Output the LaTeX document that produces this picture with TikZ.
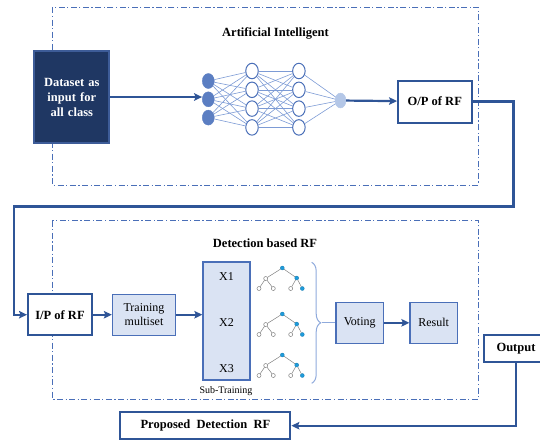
\documentclass[tikz,border=0pt]{standalone}
\usepackage{fontspec}
\setmainfont{Liberation Serif}
\usepackage{tikz}
\usetikzlibrary{shapes.geometric, arrows.meta, decorations.pathreplacing}

\definecolor{rfblue}{HTML}{2F5597}
\definecolor{rfline}{HTML}{4A6FB8}
\definecolor{rflight}{HTML}{DAE3F3}
\definecolor{rfnavy}{HTML}{1F3763}
\definecolor{navyedge}{HTML}{3D5C98}
\definecolor{nnedge}{HTML}{7D9BD5}
\definecolor{nnin}{HTML}{5B7EC2}
\definecolor{nnout}{HTML}{B4C7E7}
\definecolor{leafblue}{HTML}{1E9BDB}
\definecolor{bracecol}{HTML}{8FAADC}

\tikzstyle{datasetbox} = [rectangle, minimum width=75pt, minimum height=92pt, inner sep=0pt, text width=70pt, align=center, draw=navyedge, line width=2pt, fill=rfnavy, text=white, font=\fontsize{12.5}{15}\selectfont\bfseries]
\tikzstyle{whitebox} = [rectangle, inner sep=0pt, text centered, draw=rfblue, line width=2pt, fill=white, font=\fontsize{12.5}{15}\selectfont\bfseries]
\tikzstyle{lightbox} = [rectangle, minimum width=63pt, minimum height=41pt, inner sep=0pt, align=center, draw=rfline, line width=1.3pt, fill=rflight, font=\fontsize{12}{14}\selectfont]
\tikzstyle{title} = [font=\fontsize{12.5}{15}\selectfont\bfseries]
\tikzstyle{region} = [draw=rfline, line width=1pt, dash pattern=on 6pt off 2.5pt on 1.2pt off 2.5pt]
\tikzstyle{arrow} = [draw=rfblue, line width=2.2pt, -{Stealth[length=8pt, width=7.5pt, inset=1.5pt]}]
\tikzstyle{neuronin} = [ellipse, minimum width=12pt, minimum height=15pt, inner sep=0pt, draw=nnin, fill=nnin]
\tikzstyle{neuron} = [ellipse, minimum width=12.5pt, minimum height=15.5pt, inner sep=0pt, draw=rfline, line width=1pt, fill=white]
\tikzstyle{neuronout} = [ellipse, minimum width=11pt, minimum height=15pt, inner sep=0pt, draw=nnout, fill=nnout]
\tikzstyle{nnlink} = [draw=nnedge, line width=0.6pt]
\tikzstyle{treeblue} = [circle, minimum size=4pt, inner sep=0pt, draw=leafblue!80!black, line width=0.3pt, fill=leafblue]
\tikzstyle{treewhite} = [circle, minimum size=4pt, inner sep=0pt, draw=gray, line width=0.5pt, fill=white]
\tikzstyle{treeedge} = [draw=gray, line width=0.5pt]

\begin{document}
\begin{tikzpicture}[x=1pt, y=-1pt, node distance=84pt]
        \useasboundingbox (0,0) rectangle (540,440);

        % Artificial Intelligent part
        \draw [region] (52.3,7.3) rectangle (478.5,185);
        \node (aiTitle) [title] at (275.5,33) {Artificial Intelligent};
        \node (dataset) [datasetbox] at (71.8,97) {Dataset as\\input for\\all class};

        \foreach \j in {0,1,2}
            \node (in\j) [neuronin] at (208.3,81+18.3*\j) {};
        \foreach \j in {0,1,2,3} {
            \node (hA\j) [neuron] at (252,71+18.8*\j) {};
            \node (hB\j) [neuron] at (298.9,71+18.8*\j) {};
        }
        \node (outN) [neuronout] at (340.5,100.5) {};

        \foreach \i in {0,1,2}
            \foreach \j in {0,1,2,3}
                \draw [nnlink] (in\i) -- (hA\j);
        \foreach \i in {0,1,2,3} {
            \foreach \j in {0,1,2,3}
                \draw [nnlink] (hA\i) -- (hB\j);
            \draw [nnlink] (hB\i) -- (outN);
        }

        \node (opRF) [whitebox, minimum width=73.5pt, minimum height=42pt] at (434.8,101.5) {O/P of RF};

        \draw [arrow] (dataset.east) -- (dataset.east -| in1.west);
        \draw [arrow] (outN) -- (opRF);

        % Detection based RF part
        \draw [region] (52.3,220.7) rectangle (478.5,399);
        \node (rfTitle) [title] at (265,243.5) {Detection based RF};

        \node (ipRF) [whitebox, minimum width=64pt, minimum height=41pt] at (60,314.7) {I/P of RF};
        \node (training) [lightbox, right of=ipRF] {Training\\multiset};
        \node (subTrain) [lightbox, minimum width=47pt, minimum height=118pt] at (226.5,321) {};
        \node (xOne) [font=\fontsize{12}{14}\selectfont] at (226.5,276.5) {X1};
        \node (xTwo) [font=\fontsize{12}{14}\selectfont] at (226.5,323) {X2};
        \node (xThree) [font=\fontsize{12}{14}\selectfont] at (226.5,368.5) {X3};
        \node (subLabel) [font=\fontsize{10}{12}\selectfont] at (226,391.5) {Sub-Training};

        \foreach \r [count=\k] in {268,314,355} {
            \node (root\k) [treeblue] at (282.3,\r) {};
            \node (left\k) [treewhite] at (265.7,\r+10.5) {};
            \node (right\k) [treeblue] at (296.7,\r+10) {};
            \node (leafA\k) [treewhite] at (259,\r+20.5) {};
            \node (leafB\k) [treewhite] at (273.3,\r+20.5) {};
            \node (leafC\k) [treewhite] at (290.7,\r+20.5) {};
            \node (leafD\k) [treeblue] at (302.3,\r+20.5) {};
            \draw [treeedge] (root\k) -- (left\k);
            \draw [treeedge] (root\k) -- (right\k);
            \draw [treeedge] (left\k) -- (leafA\k);
            \draw [treeedge] (left\k) -- (leafB\k);
            \draw [treeedge] (right\k) -- (leafC\k);
            \draw [treeedge] (right\k) -- (leafD\k);
        }

        \node (voting) [lightbox, minimum width=47.3pt] at (359.7,322.8) {Voting};
        \node (result) [lightbox, minimum width=47.3pt] at (433.7,322.8) {Result};
        \node (output) [whitebox, minimum width=64pt, minimum height=26.7pt] at (516,348.3) {Output};
        \node (proposed) [whitebox, minimum width=170pt, minimum height=26.7pt] at (205.4,425.7) {Proposed\ \ Detection\ \ RF};

        \coordinate (turnR) at (513.5,206.5);
        \coordinate (turnL) at (13.8,206.5);
        \coordinate (braceTip) at (321.5,322.8);

        \draw [arrow] (opRF.east) -| (turnR) -- (turnL) |- (ipRF.west);
        \draw [arrow] (ipRF) -- (training);
        \draw [arrow] (training.east) -- (training.east -| subTrain.west);
        \draw [bracecol, line width=1pt, decorate, decoration={brace, amplitude=9pt}] (311.7,262.3) -- (311.7,383.3);
        \draw [bracecol, line width=1pt] (braceTip) -- (voting.west);
        \draw [arrow] (voting) -- (result);
        \draw [arrow] (output.south) |- (proposed.east);

\end{tikzpicture}
\end{document}
